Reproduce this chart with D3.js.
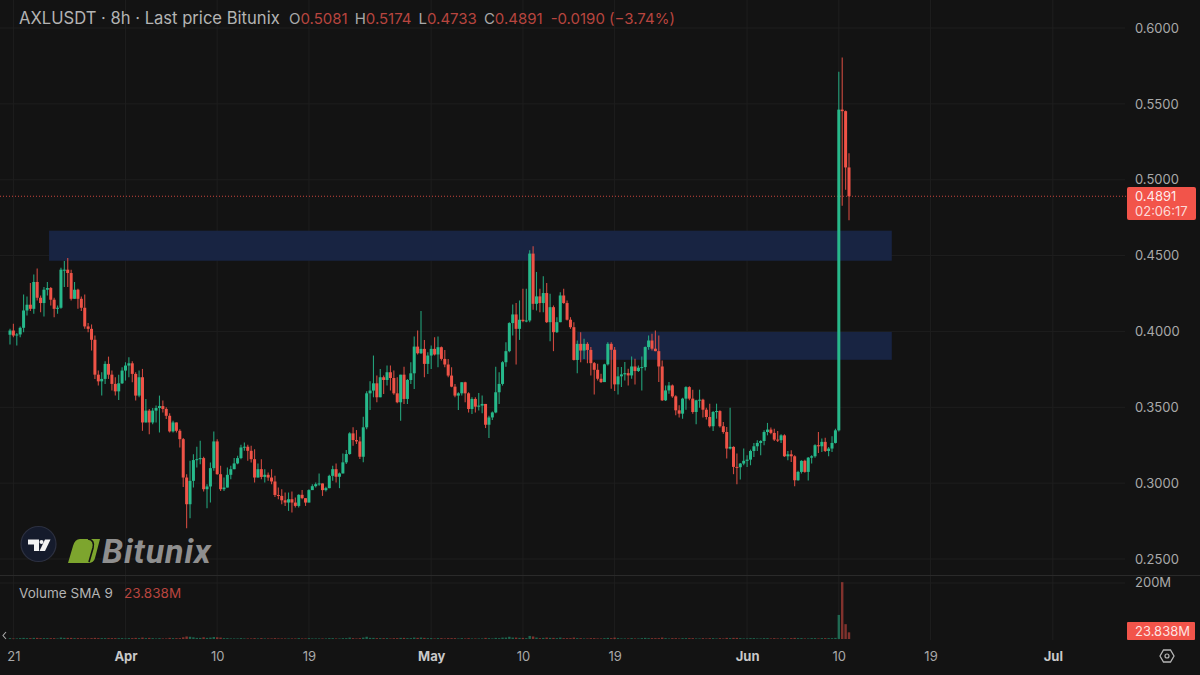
<!DOCTYPE html>
<html><head><meta charset="utf-8">
<script src="https://cdn.jsdelivr.net/npm/d3@7"></script>
<style>
html,body{margin:0;padding:0;background:#131313;overflow:hidden}
text{font-family:Inter,Roboto,sans-serif}
</style></head><body>
<svg id="c" width="1200" height="675"></svg>
<script>
const firstOpen = 0.3978;
const closes = [
.4006,.3973,.3980,.4024,.4138,.4176,.4149,.4326,.4222,.4187,
.4275,.4286,.4209,.4149,.4156,.4407,.4407,.4385,.4215,.4275,
.4215,.4156,.4033,.4017,.3945,.3715,.3671,.3687,.3786,.3715,
.3654,.3605,.3658,.3742,.3775,.3790,.3720,.3577,.3698,.3400,
.3478,.3400,.3478,.3495,.3508,.3489,.3444,.3341,.3400,.3345,
.3290,.3037,.2861,.3015,.3152,.3158,.3165,.2960,.2978,.3099,
.3275,.3059,.2960,.2971,.3055,.3092,.3130,.3165,.3235,.3240,
.3213,.3158,.3037,.3092,.3041,.3055,.3037,.3011,.2922,.2916,
.2887,.2872,.2894,.2872,.2850,.2923,.2901,.2872,.2954,.2980,
.2993,.2998,.2954,.2967,.3048,.3092,.3042,.3064,.3137,.3192,
.3328,.3284,.3275,.3174,.3368,.3592,.3610,.3658,.3566,.3698,
.3680,.3731,.3693,.3592,.3533,.3715,.3555,.3680,.3724,.3900,
.3856,.3885,.3786,.3841,.3885,.3848,.3896,.3819,.3782,.3709,
.3636,.3577,.3592,.3665,.3592,.3489,.3555,.3504,.3511,.3522,
.3385,.3433,.3466,.3599,.3654,.3797,.3870,.4055,.4112,.4017,
.4077,.4068,.4072,.4513,.4182,.4231,.4187,.4253,.4061,.4160,
.3995,.4061,.4237,.4187,.4077,.4028,.3812,.3918,.3874,.3918,
.3878,.3791,.3747,.3688,.3666,.3783,.3918,.3879,.3651,.3704,
.3717,.3725,.3710,.3769,.3739,.3761,.3765,.3897,.3940,.3886,
.3870,.3769,.3546,.3611,.3644,.3572,.3480,.3458,.3557,.3633,
.3557,.3469,.3546,.3550,.3484,.3436,.3375,.3469,.3475,.3375,
.3337,.3228,.3239,.3107,.3105,.3129,.3147,.3155,.3212,.3243,
.3265,.3278,.3337,.3353,.3331,.3287,.3283,.3315,.3177,.3190,
.3177,.3019,.3074,.3147,.3074,.3168,.3177,.3250,.3243,.3272,
.3212,.3228,.3265,.3348,.5462,.5452,.5081,.4891];
const highs = [
.4017,.4050,.3989,.4033,.4244,.4231,.4319,.4376,.4414,.4237,
.4293,.4326,.4293,.4222,.4171,.4420,.4464,.4484,.4407,.4326,
.4281,.4231,.4244,.4055,.4046,.3973,.3742,.3731,.3804,.3834,
.3742,.3698,.3715,.3764,.3797,.3830,.3804,.3731,.3742,.3753,
.3555,.3489,.3495,.3511,.3577,.3544,.3500,.3460,.3411,.3400,
.3356,.3297,.3059,.3147,.3191,.3240,.3279,.3174,.2993,.3136,
.3341,.3290,.3114,.3037,.3103,.3114,.3165,.3180,.3253,.3268,
.3253,.3246,.3224,.3130,.3158,.3092,.3070,.3092,.3048,.2971,
.2960,.2938,.2938,.2945,.2905,.2927,.2954,.2901,.2960,.2993,
.3004,.3064,.2998,.2976,.3055,.3114,.3130,.3070,.3196,.3218,
.3335,.3368,.3350,.3306,.3438,.3605,.3671,.3841,.3709,.3753,
.3709,.3775,.3775,.3742,.3698,.3715,.3768,.3687,.3797,.3966,
.4006,.4134,.3944,.3863,.3907,.3962,.3966,.3900,.3878,.3819,
.3764,.3654,.3599,.3665,.3669,.3599,.3566,.3566,.3594,.3577,
.3522,.3444,.3473,.3768,.3731,.3804,.3929,.4061,.4178,.4187,
.4204,.4281,.4281,.4535,.4561,.4392,.4281,.4363,.4319,.4248,
.4171,.4094,.4259,.4281,.4204,.4094,.4061,.3940,.3995,.3951,
.3929,.3897,.3798,.3787,.3721,.3787,.3929,.3929,.3897,.3765,
.3765,.3798,.3754,.3835,.3820,.3776,.3835,.3901,.3973,.3984,
.4006,.3973,.3809,.3644,.3666,.3651,.3579,.3513,.3563,.3638,
.3638,.3616,.3550,.3616,.3557,.3497,.3524,.3476,.3524,.3480,
.3403,.3370,.3497,.3243,.3195,.3133,.3228,.3184,.3221,.3265,
.3283,.3283,.3348,.3397,.3366,.3359,.3344,.3322,.3322,.3212,
.3217,.3184,.3081,.3151,.3155,.3173,.3184,.3256,.3337,.3294,
.3300,.3239,.3309,.3359,.5712,.5805,.5456,.5174];
const lows = [
.3914,.3962,.3907,.3962,.3995,.4105,.4134,.4116,.4204,.4127,
.4099,.4237,.4171,.4094,.4116,.4149,.4293,.4293,.4204,.4215,
.4149,.4134,.4017,.3995,.3874,.3687,.3643,.3577,.3654,.3687,
.3610,.3577,.3548,.3654,.3676,.3698,.3665,.3544,.3566,.3345,
.3400,.3323,.3389,.3400,.3334,.3466,.3422,.3334,.3334,.3334,
.3235,.2975,.2702,.2768,.2971,.3103,.3125,.2945,.2834,.2872,
.3081,.3055,.2949,.2949,.2971,.3026,.3092,.3125,.3158,.3213,
.3147,.3136,.3004,.3037,.3026,.3004,.3015,.2993,.2909,.2894,
.2861,.2850,.2817,.2806,.2839,.2839,.2894,.2850,.2872,.2954,
.2971,.2982,.2916,.2945,.2967,.3015,.3004,.2967,.3064,.3126,
.3187,.3247,.3258,.3159,.3137,.3356,.3482,.3566,.3533,.3566,
.3588,.3643,.3610,.3583,.3526,.3411,.3522,.3522,.3654,.3621,
.3848,.3852,.3698,.3720,.3753,.3841,.3764,.3808,.3764,.3698,
.3632,.3566,.3482,.3577,.3533,.3466,.3456,.3466,.3478,.3460,
.3363,.3297,.3416,.3460,.3522,.3643,.3768,.3863,.3973,.3782,
.3944,.4061,.4061,.4061,.4143,.4138,.4127,.4127,.4055,.3936,
.3870,.3989,.4061,.4182,.4072,.4017,.3808,.3724,.3797,.3819,
.3790,.3710,.3585,.3677,.3660,.3677,.3776,.3622,.3607,.3585,
.3633,.3677,.3644,.3688,.3651,.3732,.3611,.3743,.3879,.3875,
.3870,.3666,.3541,.3541,.3590,.3563,.3447,.3432,.3425,.3484,
.3546,.3458,.3388,.3497,.3432,.3419,.3366,.3344,.3425,.3366,
.3326,.3162,.3221,.3059,.2993,.3024,.3118,.3107,.3118,.3173,
.3212,.3184,.3250,.3315,.3322,.3278,.3272,.3265,.3173,.3151,
.3140,.2980,.3015,.3063,.3068,.3017,.3129,.3168,.3199,.3206,
.3206,.3177,.3206,.3261,.3340,.4829,.4934,.4733];
const volumes = [
3,2,2,3,4,3,3,4,4,3, 3,3,3,3,2,5,4,4,4,3,
3,3,3,2,3,4,3,3,3,3, 3,3,3,3,2,3,3,4,3,5,
3,4,3,2,3,2,2,4,3,3, 3,6,9,8,6,4,4,6,4,5,
7,6,5,3,3,2,2,2,3,2, 2,2,3,2,3,2,2,2,3,2,
2,2,2,2,2,3,2,2,3,2, 2,2,2,2,3,3,2,2,3,3,
5,3,2,3,5,8,4,4,3,3, 3,3,2,3,3,4,4,3,3,5,
4,5,4,3,3,2,3,3,2,3, 3,3,2,3,2,3,2,2,2,2,
4,3,2,4,3,5,5,8,5,5, 4,4,3,11,9,5,3,4,5,4,
4,3,5,3,3,3,5,3,3,2, 2,3,3,2,2,3,4,3,5,3,
2,2,2,3,2,2,3,4,3,3, 3,3,5,3,2,3,3,2,3,3,
3,3,2,2,3,2,3,3,2,3, 2,4,3,4,4,3,2,2,3,3,
2,2,3,3,2,3,2,2,3,2, 3,4,3,3,2,2,3,3,2,3,
3,3,3,4,86,203,53,23.838];
const yTicks = [0.25,0.30,0.35,0.40,0.45,0.50,0.55,0.60];
const xTickIndex = [1,34,61,88,124,151,178,217,244,271,307];
const xTickLabels = ["21","Apr","10","19","May","10","19","Jun","10","19","Jul"];
const boldLabels = ["Apr","May","Jun","Jul"];
const zoneA = {from:11.5,to:259.6,top:0.4664,bottom:0.4466};
const zoneB = {from:167,to:259.6,top:0.3997,bottom:0.3813};
const lastPrice = 0.4891, smaNow = 23.838;
const legendOHLC = [["O","0.5081"],["H","0.5174"],["L","0.4733"],["C","0.4891"]];
const legendChange = "-0.0190 (−3.74%)";

const UP="#27b98b", DOWN="#ef5247", BG="#131313", GRID="#1e1e1e", AXIS="#a9a9a9";
const svg=d3.select("#c");
svg.append("rect").attr("width",1200).attr("height",675).attr("fill",BG);
const defs=svg.append("defs");
defs.append("filter").attr("id","soft").append("feGaussianBlur").attr("stdDeviation",0.45);

const x=d3.scaleLinear().domain([0,247]).range([10,849]);
const y=d3.scaleLinear().domain([0.25,0.60]).range([559,28]);
const vy=d3.scaleLinear().domain([0,200]).range([639,583]);
const candles=closes.map((c,i)=>({i,c,h:highs[i],l:lows[i],o:i?closes[i-1]:firstOpen,v:volumes[i]}));
const col=d=>d.c>=d.o?UP:DOWN;

// grid
svg.append("g").selectAll("line").data(xTickIndex).join("line")
 .attr("x1",d=>x(d)).attr("x2",d=>x(d)).attr("y1",0).attr("y2",640).attr("stroke",GRID);
svg.append("g").selectAll("line").data(yTicks).join("line")
 .attr("x1",0).attr("x2",1125).attr("y1",d=>y(d)).attr("y2",d=>y(d)).attr("stroke",GRID);
svg.append("line").attr("x1",0).attr("x2",1125).attr("y1",vy(200)).attr("y2",vy(200)).attr("stroke",GRID);
svg.append("line").attr("x1",0).attr("x2",1200).attr("y1",575.5).attr("y2",575.5).attr("stroke","#2a2a2a");

// zones
svg.append("g").selectAll("rect").data([zoneA,zoneB]).join("rect")
 .attr("x",d=>x(d.from)).attr("width",d=>x(d.to)-x(d.from))
 .attr("y",d=>y(d.top)).attr("height",d=>y(d.bottom)-y(d.top))
 .attr("fill","#182442");

// price line
svg.append("line").attr("x1",0).attr("x2",1126).attr("y1",y(lastPrice)).attr("y2",y(lastPrice))
 .attr("stroke","#c9453d").attr("stroke-dasharray","1 2");

// volume
svg.append("g").selectAll("rect").data(candles).join("rect")
 .attr("x",d=>x(d.i)-1.2).attr("width",2.4)
 .attr("y",d=>vy(d.v)).attr("height",d=>vy(0)-vy(d.v))
 .attr("fill",col).attr("opacity",0.5);

// candles
const g=svg.append("g").attr("filter","url(#soft)");
g.selectAll("line").data(candles).join("line")
 .attr("x1",d=>x(d.i)).attr("x2",d=>x(d.i)).attr("y1",d=>y(d.h)).attr("y2",d=>y(d.l))
 .attr("stroke",col).attr("stroke-width",1.1).attr("stroke-opacity",0.85);
g.selectAll("rect").data(candles).join("rect")
 .attr("x",d=>x(d.i)-1.5).attr("width",3)
 .attr("y",d=>y(Math.max(d.o,d.c)))
 .attr("height",d=>Math.max(1,Math.abs(y(d.o)-y(d.c))))
 .attr("fill",col);

// axes
const ya=svg.append("g").attr("transform","translate(1125,0)")
 .call(d3.axisRight(y).tickValues(yTicks).tickFormat(d3.format(".4f")).tickSize(0).tickPadding(10));
ya.select(".domain").remove();
ya.selectAll("text").attr("fill",AXIS).style("font-size","13px").style("font-family","Inter,Roboto,sans-serif");
const xa=svg.append("g").attr("transform","translate(0,648)")
 .call(d3.axisBottom(x).tickValues(xTickIndex).tickFormat((d,i)=>xTickLabels[i]).tickSize(0).tickPadding(4));
xa.select(".domain").remove();
xa.selectAll("text").attr("fill",function(){return boldLabels.includes(this.textContent)?"#c9c9c9":AXIS})
 .style("font-weight",function(){return boldLabels.includes(this.textContent)?700:400})
 .style("font-size","13px").style("font-family","Inter,Roboto,sans-serif");

// legend
svg.append("text").attr("x",19).attr("y",24).attr("fill","#b4b4b4").style("font-size","16.6px").text("AXLUSDT · 8h · Last price Bitunix");
const leg=svg.append("text").attr("x",289).attr("y",24).style("font-size","15px");
legendOHLC.forEach(([k,v],i)=>{
 leg.append("tspan").attr("fill","#a9a9a9").attr("dx",i?7:0).text(k);
 leg.append("tspan").attr("fill","#b8453f").text(v);
});
leg.append("tspan").attr("fill","#b8453f").attr("dx",8).text(legendChange);

svg.append("text").attr("x",19).attr("y",598).attr("fill","#b4b4b4").style("font-size","13.5px").text("Volume SMA 9");
svg.append("text").attr("x",124).attr("y",598).attr("fill","#b8453f").style("font-size","13.5px").text(d3.format(".3f")(smaNow)+"M");
svg.append("text").attr("x",1135).attr("y",vy(200)+4).attr("fill",AXIS).style("font-size","13px").text("200M");

// price tag
svg.append("rect").attr("x",1127).attr("y",187).attr("width",69).attr("height",33).attr("rx",2).attr("fill","#f2544a");
svg.append("text").attr("x",1135).attr("y",201).attr("fill","#fff").attr("fill-opacity",.9).style("font-size","13px").text(d3.format(".4f")(lastPrice));
svg.append("text").attr("x",1135).attr("y",216).attr("fill","#fff").attr("fill-opacity",.8).style("font-size","13px").text("02:06:17");
// volume tag
svg.append("rect").attr("x",1127).attr("y",622).attr("width",68).attr("height",18).attr("rx",1).attr("fill","#f2544a");
svg.append("text").attr("x",1135).attr("y",636).attr("fill","#fff").attr("fill-opacity",.85).style("font-size","13px").text(d3.format(".3f")(smaNow)+"M");

// settings icon
svg.append("path").attr("d","M1160,656 L1163.5,650 L1170.5,650 L1174,656 L1170.5,662 L1163.5,662 Z").attr("fill","none").attr("stroke","#b5b5b5").attr("stroke-width",1.3);
svg.append("circle").attr("cx",1167).attr("cy",656).attr("r",2).attr("fill","none").attr("stroke","#b5b5b5").attr("stroke-width",1.2);
// chevron
svg.append("path").attr("d","M6,632 L3,635.5 L6,639").attr("fill","none").attr("stroke","#a9a9a9").attr("stroke-width",1.1);

// TV logo
svg.append("circle").attr("cx",38.5).attr("cy",544).attr("r",17.5).attr("fill","#151b2c").attr("stroke","#2c3040").attr("stroke-width",1.2);
svg.append("path").attr("d","M28,539.5 H39 V551 H34 V544.5 H28 Z").attr("fill","#f2f2f2");
svg.append("circle").attr("cx",41.5).attr("cy",542).attr("r",2).attr("fill","#f2f2f2");
svg.append("path").attr("d","M45,539.5 H50.5 L45,551 H39.5 Z").attr("fill","#f2f2f2");
// Bitunix logo
svg.append("path").attr("d","M80,539 H100 L95,558 Q94,563 88,563 H68 L73,546 Q75,539 80,539 Z").attr("fill","#7da52e");
svg.append("path").attr("d","M88,539 Q95,540 93,548 L89,562").attr("fill","none").attr("stroke","#131313").attr("stroke-width",1.6);
svg.append("text").attr("x",102).attr("y",563).attr("fill","#8f8f8f").attr("letter-spacing",0.9)
 .style("font-family","Roboto,sans-serif").style("font-weight",700).style("font-style","italic").style("font-size","34px").text("Bitunix");
</script>
</body></html>
